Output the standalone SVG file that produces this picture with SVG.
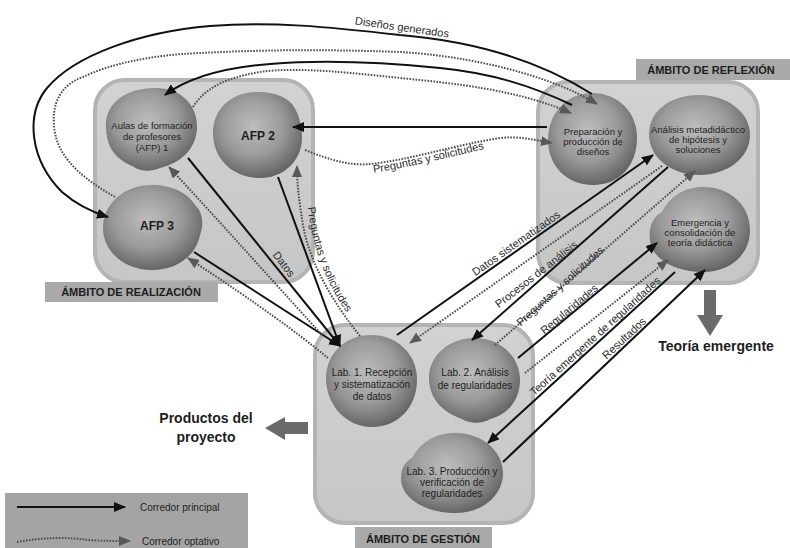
<svg xmlns="http://www.w3.org/2000/svg" width="790" height="548" viewBox="0 0 790 548">
<defs>
  <radialGradient id="blob" cx="0.45" cy="0.4" r="0.62">
    <stop offset="0" stop-color="#bdbdbd"/>
    <stop offset="0.55" stop-color="#9a9a9a"/>
    <stop offset="1" stop-color="#626262"/>
  </radialGradient>
  <linearGradient id="panel" x1="0" y1="0" x2="0" y2="1">
    <stop offset="0" stop-color="#d2d2d2"/>
    <stop offset="1" stop-color="#c6c6c6"/>
  </linearGradient>
  <marker id="ah" markerUnits="userSpaceOnUse" viewBox="0 0 12 10" markerWidth="12" markerHeight="10" refX="11" refY="5" orient="auto">
    <path d="M0,0 L12,5 L0,10 Z" fill="#111"/>
  </marker>
  <marker id="ahd" markerUnits="userSpaceOnUse" viewBox="0 0 12 10" markerWidth="12" markerHeight="10" refX="11" refY="5" orient="auto">
    <path d="M0,0 L12,5 L0,10 Z" fill="#585858"/>
  </marker>
  <path id="tp1" d="M366,174 C395,170 440,160 492,147"/>
  <path id="tp2" d="M307,198 C309,235 323,282 352,320"/>
</defs>
<style>
  text{font-family:"Liberation Sans",Arial,sans-serif}
  .panel{fill:url(#panel);stroke:#b4b4b4;stroke-width:4}
  .blob{fill:url(#blob)}
  .lblbox{fill:#a9a9a9}
  .lbl{font-size:11px;font-weight:bold;fill:#1e1e1e;text-anchor:middle}
  .nt{font-size:9.5px;fill:#1e1e1e;text-anchor:middle}
  .lt{font-size:10px;fill:#1e1e1e;text-anchor:middle}
  .big{font-size:12px;font-weight:bold;fill:#1e1e1e;text-anchor:middle}
  .ct{font-size:11px;fill:#2a2a2a;text-anchor:middle}
  .sl{fill:none;stroke:#111;stroke-width:2;marker-end:url(#ah)}
  .dl{fill:none;stroke:#4e4e4e;stroke-width:2;stroke-dasharray:1.6 1.4;marker-end:url(#ahd)}
  .garrow{fill:#6a6a6a}
  .out{font-size:14px;font-weight:bold;fill:#1e1e1e;text-anchor:middle}
</style>

<rect width="790" height="548" fill="#ffffff"/>

<!-- Panels -->
<g id="ambito-realizacion">
  <rect class="panel" x="95" y="80" width="218" height="202" rx="30"/>
  <rect class="lblbox" x="45" y="282" width="173" height="20"/>
  <text class="lbl" x="131" y="296">ÁMBITO DE REALIZACIÓN</text>
</g>
<g id="ambito-reflexion">
  <rect class="panel" x="538" y="82" width="220" height="201" rx="30"/>
  <rect class="lblbox" x="636" y="59" width="154" height="21"/>
  <text class="lbl" x="711" y="74">ÁMBITO DE REFLEXIÓN</text>
</g>
<g id="ambito-gestion">
  <rect class="panel" x="315" y="325" width="218" height="198" rx="30"/>
  <rect class="lblbox" x="355" y="527" width="137" height="21"/>
  <text class="lbl" x="423" y="543">ÁMBITO DE GESTIÓN</text>
</g>

<!-- Nodes -->
<g id="afp1">
  <path class="blob" d="M106,128 C104,102 128,88 155,88 C182,88 198,106 197,128 C196,150 180,163 160,168 C150,172 142,172 132,166 C115,158 107,148 106,128 Z"/>
  <text class="nt" x="152" y="129">Aulas de formación</text>
  <text class="nt" x="152" y="140">de profesores</text>
  <text class="nt" x="152" y="151">(AFP) 1</text>
</g>
<g id="afp2">
  <path class="blob" d="M213,133 C213,108 232,92 258,92 C276,92 286,98 292,104 C298,112 302,124 302,138 C302,160 284,178 260,178 C234,178 213,160 213,133 Z"/>
  <text class="big" x="258" y="140">AFP 2</text>
</g>
<g id="afp3">
  <path class="blob" d="M103,228 C103,203 125,185 152,185 C172,185 188,193 195,205 C203,212 204,225 200,235 C196,255 178,270 152,270 C125,270 103,252 103,228 Z"/>
  <text class="big" x="157" y="230">AFP 3</text>
</g>
<g id="preparacion">
  <path class="blob" d="M548,140 C548,113 567,93 592,93 C618,93 637,112 637,138 C637,165 620,185 593,185 C566,185 548,165 548,140 Z"/>
  <text class="nt" x="593" y="135">Preparación y</text>
  <text class="nt" x="593" y="145">producción de</text>
  <text class="nt" x="593" y="155">diseños</text>
</g>
<g id="analisis">
  <path class="blob" d="M649,134 C649,110 672,95 699,95 C727,95 750,112 750,135 C750,158 727,175 699,175 C672,175 649,158 649,134 Z"/>
  <text class="nt" x="698" y="133">Análisis metadidáctico</text>
  <text class="nt" x="698" y="143">de hipótesis y</text>
  <text class="nt" x="698" y="153">soluciones</text>
</g>
<g id="emergencia">
  <path class="blob" d="M650,240 C648,225 655,215 662,212 C670,196 685,187 703,187 C730,187 750,205 750,230 C750,255 730,272 703,272 C676,272 652,260 650,240 Z"/>
  <text class="nt" x="700" y="226">Emergencia y</text>
  <text class="nt" x="700" y="236">consolidación de</text>
  <text class="nt" x="700" y="246">teoría didáctica</text>
</g>
<g id="lab1">
  <path class="blob" d="M326,378 C326,353 346,335 371,335 C396,335 417,353 417,380 C417,407 398,427 372,427 C346,427 326,405 326,378 Z"/>
  <text class="lt" x="372" y="376">Lab. 1. Recepción</text>
  <text class="lt" x="372" y="388">y sistematización</text>
  <text class="lt" x="372" y="400">de datos</text>
</g>
<g id="lab2">
  <path class="blob" d="M429,378 C429,355 450,338 474,338 C500,338 520,356 520,380 C520,402 505,416 490,419 C482,424 470,424 462,419 C442,412 429,398 429,378 Z"/>
  <text class="lt" x="475" y="376">Lab. 2. Análisis</text>
  <text class="lt" x="475" y="389">de regularidades</text>
</g>
<g id="lab3">
  <path class="blob" d="M401,478 C401,468 405,462 412,458 C420,443 435,433 455,433 C482,433 503,451 503,473 C503,496 482,513 455,513 C428,513 401,500 401,478 Z"/>
  <text class="lt" x="452" y="475">Lab. 3. Producción y</text>
  <text class="lt" x="452" y="486">verificación de</text>
  <text class="lt" x="452" y="497">regularidades</text>
</g>

<!-- Outputs -->
<g id="productos">
  <polygon class="garrow" points="265,428 285,417 285,422 308,422 308,434 285,434 285,440"/>
  <text class="out" x="206" y="423">Productos del</text>
  <text class="out" x="206" y="442">proyecto</text>
</g>
<g id="teoria">
  <polygon class="garrow" points="704,290 716,290 716,315 723,315 710,336 697,315 704,315"/>
  <text class="out" x="716" y="351">Teoría emergente</text>
</g>

<!-- Connectors -->
<g id="connectors">
  <path class="sl" d="M592,94 C530,55 460,40 400,35 C330,27 270,21 210,26 C140,32 75,55 47,88 C25,115 30,160 62,192 C78,206 95,213 108,217"/>
  <path class="dl" d="M115,197 C85,180 60,160 55,133 C50,105 60,85 83,77 C110,64 150,55 200,53 C260,50 320,49 400,52 C470,56 550,75 597,104"/>
  <path class="sl" d="M572,105 C530,85 490,73 440,68 C380,62 320,60 270,64 C220,68 185,80 165,95"/>
  <path class="dl" d="M193,107 C205,88 225,78 260,72 C300,66 360,74 420,80 C480,86 530,95 571,113"/>
  <path class="sl" d="M547,127 L293,127"/>
  <path class="dl" d="M305,150 C330,160 350,166 370,164 C410,160 450,146 500,138 C520,136 535,140 552,143"/>
  <path class="dl" d="M360,336 C335,305 310,265 303,225 C299,200 297,185 297,166"/>
  <path class="sl" d="M188,158 L340,346"/>
  <path class="sl" d="M278,177 L340,346"/>
  <path class="sl" d="M194,252 L340,346"/>
  <path class="dl" d="M322,335 C290,300 220,222 169,167"/>
  <path class="dl" d="M328,358 C300,335 260,305 188,258"/>
  <path class="sl" d="M397,335 L653,155"/>
  <path class="dl" d="M662,166 L410,343"/>
  <path class="sl" d="M668,167 L472,340"/>
  <path class="dl" d="M495,345 L695,171"/>
  <path class="sl" d="M518,358 L657,243"/>
  <path class="dl" d="M525,373 L668,260"/>
  <path class="sl" d="M675,272 L488,443"/>
  <path class="sl" d="M503,462 L705,270"/>

  <text class="ct" transform="translate(402,27) rotate(8)" y="4">Diseños generados</text>
  <text class="ct"><textPath href="#tp1" startOffset="50%">Preguntas y solicitudes</textPath></text>
  <text class="ct"><textPath href="#tp2" startOffset="50%">Preguntas y solicitudes</textPath></text>
  <text class="ct" transform="translate(284,264) rotate(53)" y="4">Datos</text>
  <text class="ct" transform="translate(516,243) rotate(-35)" y="4">Datos sistematizados</text>
  <text class="ct" transform="translate(536,274) rotate(-38)" y="4">Procesos de análisis</text>
  <text class="ct" transform="translate(560,286) rotate(-42)" y="4">Preguntas y solicitudes</text>
  <text class="ct" transform="translate(569,309) rotate(-40)" y="4">Regularidades</text>
  <text class="ct" transform="translate(595,336) rotate(-42)" y="4">Teoría emergente de regularidades</text>
  <text class="ct" transform="translate(624,338) rotate(-43)" y="4">Resultados</text>
</g>

<!-- Legend -->
<g id="legend">
  <rect x="5" y="493" width="243" height="55" fill="#a4a4a4"/>
  <path class="sl" d="M17,507 L125,507"/>
  <text x="140" y="511" font-size="10" fill="#1e1e1e">Corredor principal</text>
  <path class="dl" d="M17,542 C40,538 60,537 80,539 C95,541 110,541 130,541"/>
  <text x="142" y="545" font-size="10" fill="#1e1e1e">Corredor optativo</text>
</g>
</svg>
